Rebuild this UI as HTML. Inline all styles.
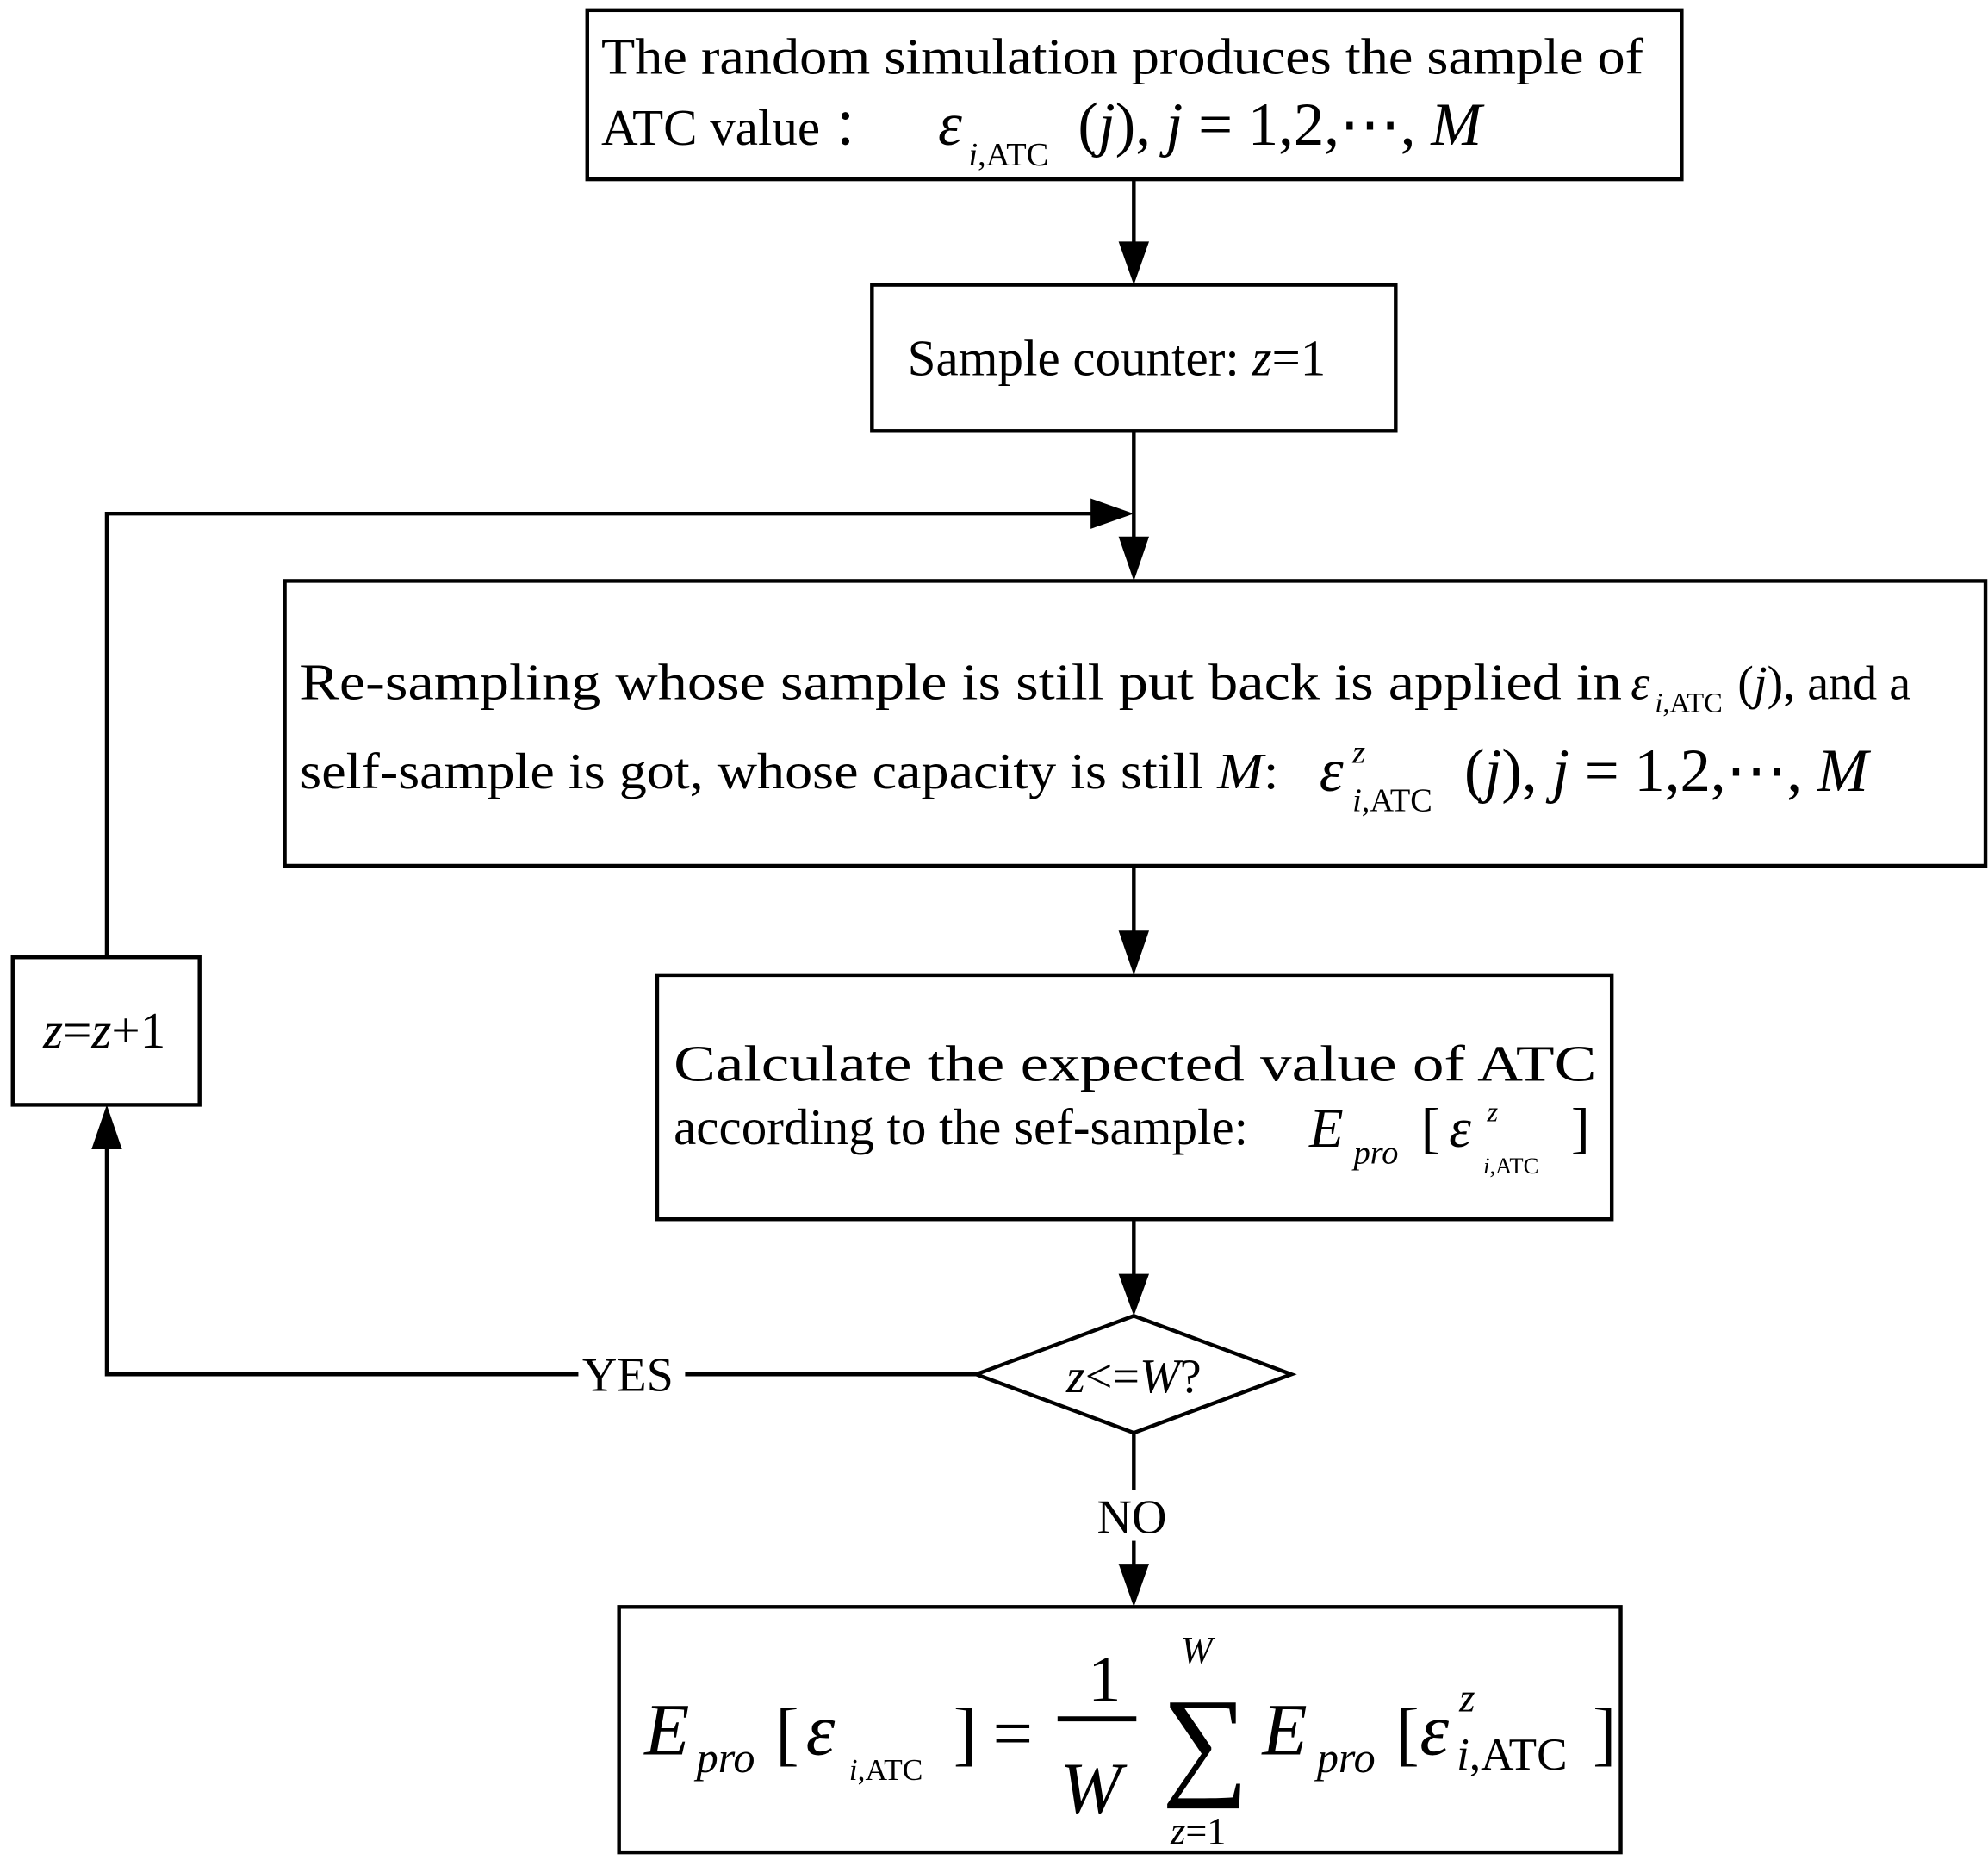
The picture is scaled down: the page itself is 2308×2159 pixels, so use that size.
<!DOCTYPE html>
<html><head><meta charset="utf-8"><style>
html,body{margin:0;padding:0;background:#fff}
svg{display:block}
text{font-family:"Liberation Serif",serif;fill:#000}
</style></head><body>
<svg width="2308" height="2159" viewBox="0 0 1564 1463" xmlns="http://www.w3.org/2000/svg">
<defs><marker id="a" viewBox="0 0 10 10" refX="10" refY="5" markerWidth="10" markerHeight="10" markerUnits="userSpaceOnUse" orient="auto"></marker></defs>
<g fill="none" stroke="#000" stroke-width="3">
<rect x="462" y="8" width="861" height="133"/>
<rect x="686" y="224" width="412" height="115"/>
<rect x="224" y="457" width="1338" height="224"/>
<rect x="517" y="767" width="751" height="192"/>
<rect x="10" y="753" width="147" height="116"/>
<rect x="487" y="1264" width="788" height="193"/>
<polygon points="768,1081 892,1035 1016,1081 892,1127"/>
<line x1="892" y1="141" x2="892" y2="200"/>
<line x1="892" y1="339" x2="892" y2="432"/>
<polyline points="84,752 84,404 870,404"/>
<line x1="892" y1="681" x2="892" y2="742"/>
<line x1="892" y1="959" x2="892" y2="1012"/>
<polyline points="768,1081 84,1081 84,895"/>
<line x1="892" y1="1127" x2="892" y2="1240"/>
</g>
<g fill="#000">
<polygon points="880,190 904,190 892,224"/>
<polygon points="880,422 904,422 892,457"/>
<polygon points="858,392 858,416 892,404"/>
<polygon points="880,732 904,732 892,767"/>
<polygon points="880,1002 904,1002 892,1035"/>
<polygon points="72,904 96,904 84,869"/>
<polygon points="880,1230 904,1230 892,1264"/>
</g>
<text x="473" y="58" font-size="40" textLength="820" lengthAdjust="spacingAndGlyphs">The random simulation produces the sample of</text>
<text x="473" y="114" font-size="40">ATC value  ：</text>
<text x="738" y="114" font-size="48" font-style="italic">ε</text>
<text x="762" y="130" font-size="26"><tspan font-style="italic">i</tspan>,ATC</text>
<text x="848" y="114" font-size="48">(<tspan font-style="italic">j</tspan>), <tspan font-style="italic">j</tspan> = 1,2,⋯, <tspan font-style="italic">M</tspan></text>
<text x="714" y="295" font-size="40">Sample counter: <tspan font-style="italic">z</tspan>=1</text>
<text x="236" y="550" font-size="40" textLength="1040" lengthAdjust="spacingAndGlyphs">Re-sampling whose sample is still put back is applied in</text>
<text x="1283" y="550" font-size="38" font-style="italic">ε</text>
<text x="1302" y="560" font-size="22"><tspan font-style="italic">i</tspan>,ATC</text>
<text x="1367" y="550" font-size="38">(<tspan font-style="italic">j</tspan>), and a</text>
<text x="236" y="620" font-size="40" textLength="770" lengthAdjust="spacingAndGlyphs">self-sample is got, whose capacity is still <tspan font-style="italic">M</tspan>:</text>
<text x="1038" y="622" font-size="48" font-style="italic">ε</text>
<text x="1064" y="600" font-size="26" font-style="italic">z</text>
<text x="1064" y="638" font-size="26"><tspan font-style="italic">i</tspan>,ATC</text>
<text x="1152" y="622" font-size="48">(<tspan font-style="italic">j</tspan>), <tspan font-style="italic">j</tspan> = 1,2,⋯, <tspan font-style="italic">M</tspan></text>
<text x="530" y="850" font-size="40" textLength="726" lengthAdjust="spacingAndGlyphs">Calculate the expected value of ATC</text>
<text x="530" y="900" font-size="40">according to the sef-sample:</text>
<text x="1030" y="902" font-size="44" font-style="italic">E</text>
<text x="1065" y="915" font-size="26" font-style="italic">pro</text>
<text x="1118" y="902" font-size="44">[</text>
<text x="1140" y="902" font-size="44" font-style="italic">ε</text>
<text x="1170" y="882" font-size="22" font-style="italic">z</text>
<text x="1167" y="923" font-size="18"><tspan font-style="italic">i</tspan>,ATC</text>
<text x="1236" y="902" font-size="44">]</text>
<text x="34" y="824" font-size="40"><tspan font-style="italic">z</tspan>=<tspan font-style="italic">z</tspan>+1</text>
<rect x="455" y="1060" width="84" height="40" fill="#fff"/>
<text x="458" y="1094" font-size="38">YES</text>
<rect x="860" y="1172" width="68" height="40" fill="#fff"/>
<text x="863" y="1206" font-size="38">NO</text>
<text x="892" y="1095" font-size="38" text-anchor="middle"><tspan font-style="italic">z</tspan>&lt;=<tspan font-style="italic">W</tspan>?</text>
<text x="507" y="1380" font-size="58" font-style="italic">E</text>
<text x="548" y="1394" font-size="34" font-style="italic">pro</text>
<text x="610" y="1382" font-size="56">[</text>
<text x="634" y="1380" font-size="58" font-style="italic">ε</text>
<text x="668" y="1400" font-size="24"><tspan font-style="italic">i</tspan>,ATC</text>
<text x="750" y="1382" font-size="56">]</text>
<text x="781" y="1382" font-size="56">=</text>
<text x="856" y="1338" font-size="52">1</text>
<line x1="832" y1="1352" x2="894" y2="1352" stroke="#000" stroke-width="4"/>
<text x="834" y="1426" font-size="58" font-style="italic">W</text>
<text x="929" y="1308" font-size="30" font-style="italic">W</text>
<text x="914" y="1402" font-size="96">∑</text>
<text x="921" y="1450" font-size="30"><tspan font-style="italic">z</tspan>=1</text>
<text x="993" y="1380" font-size="58" font-style="italic">E</text>
<text x="1036" y="1394" font-size="34" font-style="italic">pro</text>
<text x="1098" y="1382" font-size="56">[</text>
<text x="1117" y="1380" font-size="58" font-style="italic">ε</text>
<text x="1148" y="1346" font-size="32" font-style="italic">z</text>
<text x="1146" y="1392" font-size="36"><tspan font-style="italic">i</tspan>,ATC</text>
<text x="1253" y="1382" font-size="56">]</text>
</svg>
</body></html>
